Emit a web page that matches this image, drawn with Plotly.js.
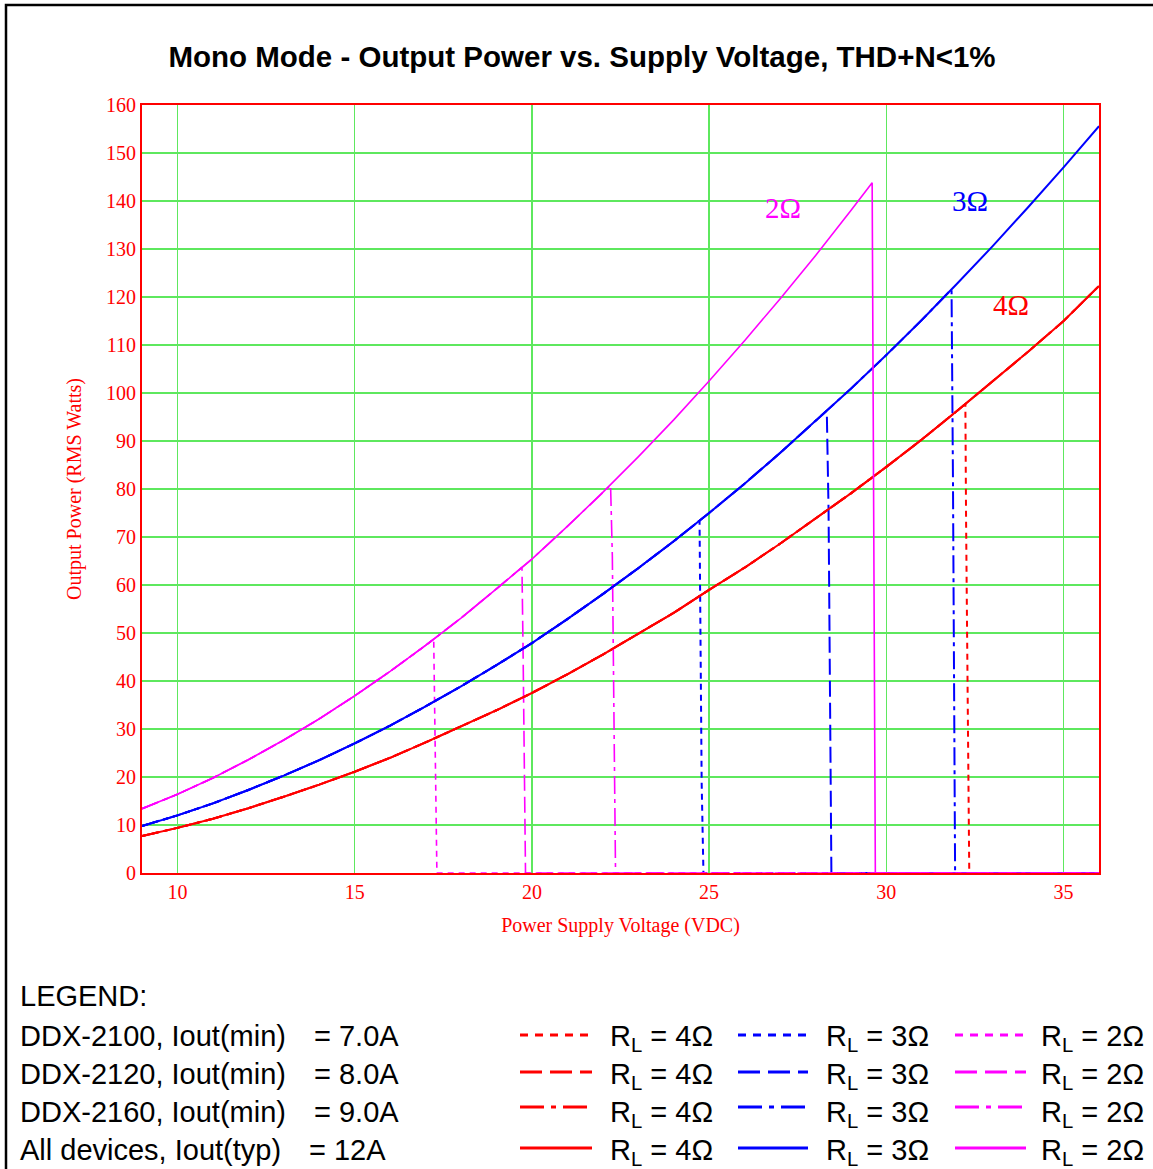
<!DOCTYPE html>
<html>
<head>
<meta charset="utf-8">
<script src="https://cdn.plot.ly/plotly-3.0.1.min.js"></script>
<style>html,body{margin:0;padding:0;background:#fff;}#chart{width:1153px;height:1169px;}</style>
</head>
<body>
<div id="chart"></div>
<script>
// ---- Data ----
const voltage = [9,10,11,12,13,14,15,16,17,18,19,20,21,22,23,24,25,26,27,28,29,30,31,32,33,34,35,36];
const power4 = [7.7,9.4,11.3,13.5,15.9,18.4,21.1,24.0,27.2,30.5,33.9,37.5,41.4,45.5,49.8,54.2,59.0,63.6,68.6,73.8,79.1,84.6,90.3,96.3,102.4,108.6,115.0,122.3];
const power3 = [9.8,12.0,14.5,17.3,20.3,23.5,27.0,30.7,34.7,38.9,43.3,47.9,52.9,58.1,63.5,69.1,75.0,81.1,87.5,94.1,100.9,107.9,115.2,122.8,130.6,138.7,147.0,155.6];
const power2 = [13.4,16.4,19.8,23.6,27.7,32.1,36.9,42.0,47.4,53.1,59.2,65.4,72.2,79.3,86.7,94.4,102.5,110.9,119.6,128.6,138.0];

// current-limit drop-offs (voltage, power) per load / device
const drop2_7A_v = [17.23,17.32,36], drop2_7A_p = [48.7,0,0];
const drop2_8A_v = [19.72,19.75,19.82,36], drop2_8A_p = [63.7,47.1,0,0];
const drop2_9A_v = [22.22,22.27,22.36,36], drop2_9A_p = [80.8,65.9,0,0];
const drop2_12A_v = [29.6,29.69,36], drop2_12A_p = [143.8,0,0];
const drop3_7A_v = [24.73,24.79,24.84,36], drop3_7A_p = [73.4,18.7,0,0];
const drop3_8A_v = [28.32,28.37,28.40,28.45,36], drop3_8A_p = [96.3,75.6,47.9,0,0];
const drop3_9A_v = [31.84,31.88,31.94,36], drop3_9A_p = [121.6,82,0,0];
const drop4_7A_v = [32.23,32.25,32.34,36], drop4_7A_p = [97.7,73.5,0,0];

const deviceNames = ['DDX-2100, Iout(min)','DDX-2120, Iout(min)','DDX-2160, Iout(min)','All devices, Iout(typ)'];
const deviceCurrents = ['= 7.0A','= 8.0A','= 9.0A','= 12A'];
const loadNames = ['4Ω','3Ω','2Ω'];
const xTickVals = [10,15,20,25,30,35];
const yTickVals = [0,10,20,30,40,50,60,70,80,90,100,110,120,130,140,150,160];

// ---- Styles ----
const colors = {'4Ω':'#ff0000','3Ω':'#0000ff','2Ω':'#ff00ff'};
const dashes = ['6px,5px','16px,6px','18px,5px,4px,5px','solid'];
const legendDashes = ['8px,7px','22px,8px','24px,7px,5px,7px','solid'];

const curves = {'4Ω':power4,'3Ω':power3,'2Ω':power2};
const drops = {
  '4Ω':[[drop4_7A_v,drop4_7A_p],null,null,null],
  '3Ω':[[drop3_7A_v,drop3_7A_p],[drop3_8A_v,drop3_8A_p],[drop3_9A_v,drop3_9A_p],null],
  '2Ω':[[drop2_7A_v,drop2_7A_p],[drop2_8A_v,drop2_8A_p],[drop2_9A_v,drop2_9A_p],[drop2_12A_v,drop2_12A_p]]
};

function build(load, dev){
  const p = curves[load];
  const d = drops[load][dev];
  const xs=[], ys=[];
  for(let i=0;i<p.length;i++){
    if(d && voltage[i] >= d[0][0]) break;
    xs.push(voltage[i]); ys.push(p[i]);
  }
  if(d){ xs.push(...d[0]); ys.push(...d[1]); }
  return {x:xs, y:ys};
}

const traces=[];
// limited devices first, typical (solid) last so it sits on top
for(let dev=0; dev<4; dev++){
  loadNames.forEach(load=>{
    const b = build(load, dev);
    traces.push({
      type:'scatter', mode:'lines', x:b.x, y:b.y,
      name:deviceNames[dev]+' R_L='+load, showlegend:false,
      line:{color:colors[load], width: load==='2Ω'?1.6:2, dash:dashes[dev]},
      hoverinfo:'x+y'
    });
  });
}

// ---- Layout helpers (pixel -> paper) ----
const W=1153, H=1169, ML=142, MR=54, MT=105, MB=296;
const PW=W-ML-MR, PH=H-MT-MB;
const px = v => (v-ML)/PW;
const py = v => (H-MB-v)/PH;

const annotations=[], shapes=[];
// curve labels
[['2Ω',27.09,138.5],['3Ω',32.36,140.0],['4Ω',33.52,118.3]].forEach(([t,x,y])=>{
  annotations.push({x:x,y:y,xref:'x',yref:'y',text:t,showarrow:false,
    font:{family:'Liberation Serif, serif',size:29,color:colors[t]}});
});

// legend block
const rowY=[1036,1074,1112,1150];
const legendFont={family:'Liberation Sans, Arial, sans-serif',size:29,color:'#000'};
annotations.push({x:px(18),y:py(996),xref:'paper',yref:'paper',xanchor:'left',yanchor:'middle',
  text:'LEGEND:',showarrow:false,font:legendFont});
deviceNames.forEach((n,i)=>{
  annotations.push({x:px(18),y:py(rowY[i]),xref:'paper',yref:'paper',xanchor:'left',yanchor:'middle',
    text:n,showarrow:false,font:legendFont});
  annotations.push({x:px(i===3?307:312),y:py(rowY[i]),xref:'paper',yref:'paper',xanchor:'left',yanchor:'middle',
    text:deviceCurrents[i],showarrow:false,font:legendFont});
});
const sampleX=[[520,592],[738,808],[955,1026]];
const textX=[608,824,1039];
const sampleY=[1035,1072,1107,1148];
loadNames.forEach((load,c)=>{
  for(let r=0;r<4;r++){
    shapes.push({type:'line',xref:'paper',yref:'paper',
      x0:px(sampleX[c][0]),x1:px(sampleX[c][1]),y0:py(sampleY[r]),y1:py(sampleY[r]),
      line:{color:colors[load],width:3,dash:legendDashes[r]}});
    annotations.push({x:px(textX[c]),y:py(rowY[r]+2),xref:'paper',yref:'paper',xanchor:'left',yanchor:'middle',
      text:'R<sub>L</sub> = '+load,showarrow:false,
      font:{family:'Liberation Sans, Arial, sans-serif',size:29,color:'#000'}});
  }
});
// outer black frame (top and left visible)
shapes.push({type:'rect',xref:'paper',yref:'paper',x0:px(6),x1:px(1200),y0:py(1230),y1:py(5),
  line:{color:'#000',width:2.5},fillcolor:'rgba(0,0,0,0)',layer:'below'});

const axisFont={family:'Liberation Serif, Times New Roman, serif',size:20,color:'#ff0000'};
const layout={
  width:W,height:H,
  margin:{l:ML,r:MR,t:MT,b:MB,pad:0},
  paper_bgcolor:'#fff',plot_bgcolor:'#fff',
  showlegend:false,
  title:{text:'<b>Mono Mode - Output Power vs. Supply Voltage, THD+N<1%</b>',
    font:{family:'Liberation Sans, Arial, sans-serif',size:29.5,color:'#000'},
    x:582/W,xanchor:'center',y:1-57/H,yanchor:'middle',xref:'container',yref:'container'},
  xaxis:{range:[9,36],tickvals:xTickVals,ticktext:xTickVals.map(String),
    showgrid:true,gridcolor:'#5ee85e',gridwidth:1.5,zeroline:false,
    showline:true,linecolor:'#ff0000',linewidth:2,mirror:true,ticks:'',
    tickfont:axisFont,
    title:{text:'Power Supply Voltage (VDC)',font:axisFont,standoff:16}},
  yaxis:{range:[0,160],tickvals:yTickVals,ticktext:yTickVals.map(String),
    showgrid:true,gridcolor:'#5ee85e',gridwidth:1.5,zeroline:false,
    showline:true,linecolor:'#ff0000',linewidth:2,mirror:true,ticks:'',
    tickfont:axisFont,
    title:{text:'Output Power (RMS Watts)',font:axisFont,standoff:19}},
  annotations:annotations,
  shapes:shapes
};
Plotly.newPlot('chart',traces,layout,{displayModeBar:false,staticPlot:true});
</script>
</body>
</html>
